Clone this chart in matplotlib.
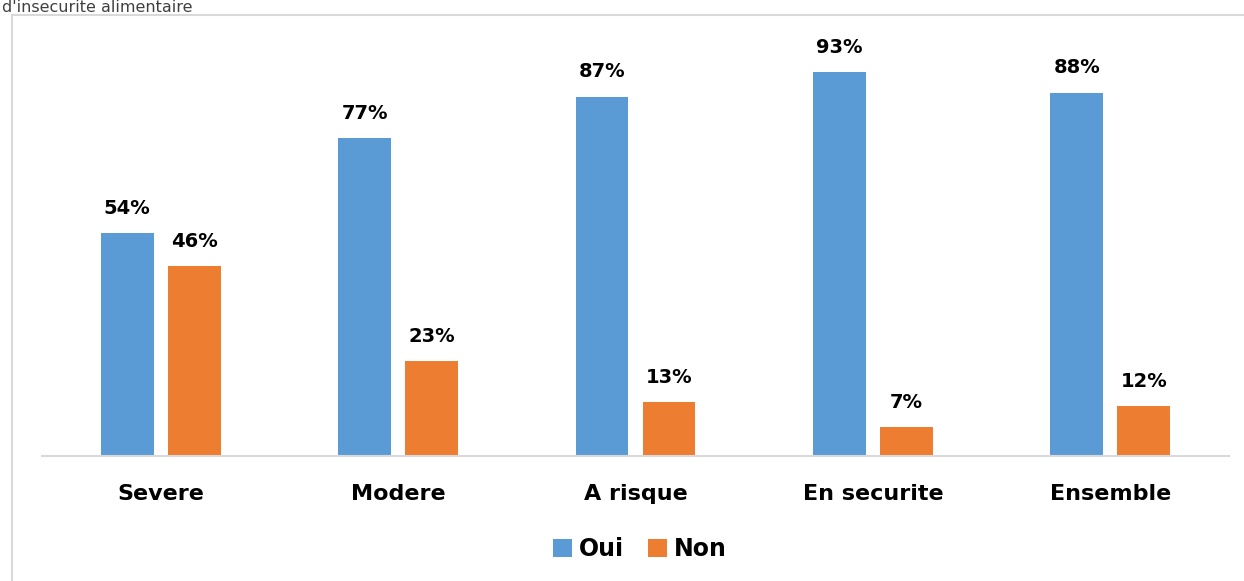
import matplotlib.pyplot as plt
import numpy as np
from matplotlib.patches import Rectangle

categories = ['Severe', 'Modere', 'A risque', 'En securite', 'Ensemble']
oui = [54, 77, 87, 93, 88]
non = [46, 23, 13, 7, 12]

blue = '#5b9bd5'
orange = '#ed7d31'

fig = plt.figure(figsize=(12.44, 5.81), dpi=100)
ax = fig.add_axes([42 / 1244, 1 - 456 / 581, (1229 - 42) / 1244, (456 - 43) / 581])

# cadre du graphique
fig.patches.append(Rectangle((12 / 1244, -0.05), 1.2, 1 - 15 / 581 + 0.05,
                             transform=fig.transFigure, fill=False,
                             edgecolor='#d9d9d9', linewidth=1.5))
fig.text(0.002, 1 - 12.5 / 581, "d'insecurite alimentaire", fontsize=11.5,
         color='#404040', va='baseline', ha='left')

x = np.arange(len(categories))
w = 0.223
off = 0.141
b1 = ax.bar(x - off, oui, w, color=blue, label='Oui')
b2 = ax.bar(x + off, non, w, color=orange, label='Non')

for bars, vals in ((b1, oui), (b2, non)):
    for b, v in zip(bars, vals):
        ax.annotate(f'{v}%', (b.get_x() + b.get_width() / 2, v),
                    xytext=(0, 11), textcoords='offset points',
                    ha='center', va='bottom', fontsize=14, fontweight='bold')

ax.set_xlim(-0.5, 4.5)
ax.set_ylim(0, 100)
ax.set_yticks([])
ax.set_xticks(x)
ax.set_xticklabels(categories, fontsize=16, fontweight='bold')
ax.tick_params(axis='x', length=0, pad=20)
for s in ['top', 'right', 'left']:
    ax.spines[s].set_visible(False)
ax.spines['bottom'].set_color('#d9d9d9')
ax.spines['bottom'].set_linewidth(1.5)

leg = fig.legend(loc='center', bbox_to_anchor=(640 / 1244, 1 - 549 / 581),
                 ncol=2, frameon=False, handlelength=0.8, handleheight=0.8,
                 handletextpad=0.3, columnspacing=1.0,
                 prop={'size': 17, 'weight': 'bold'})

fig.savefig('out.png', dpi=100)
